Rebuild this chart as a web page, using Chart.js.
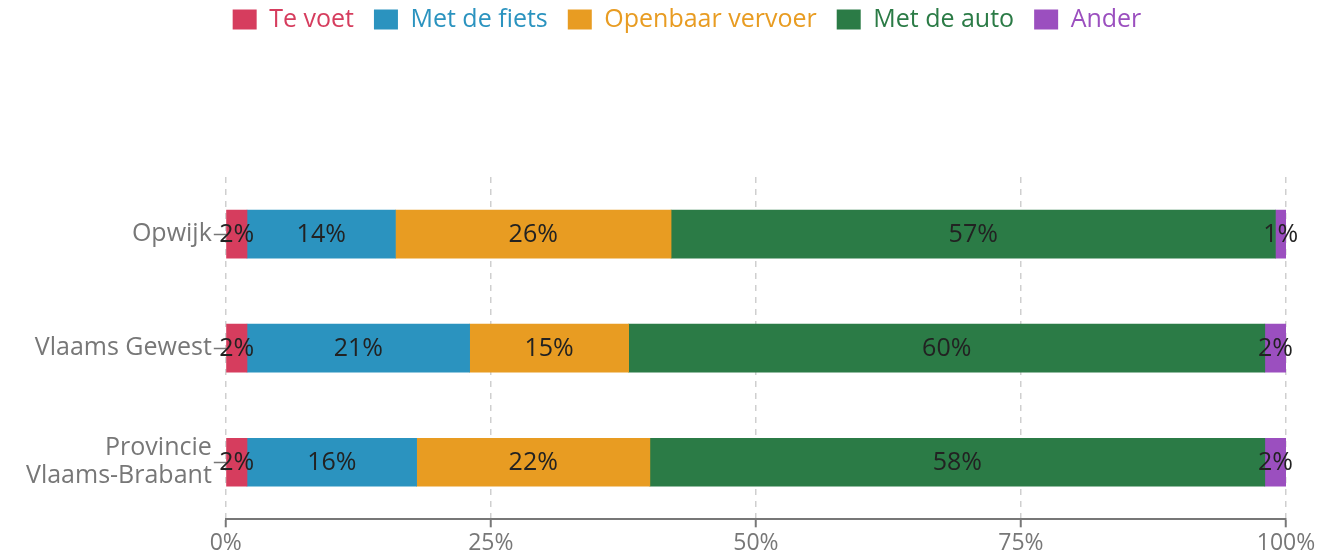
<!DOCTYPE html>
<html>
<head>
<meta charset="utf-8">
<script src="https://cdn.jsdelivr.net/npm/chart.js@4.4.1/dist/chart.umd.min.js"></script>
<style>
    html, body { margin: 0; padding: 0; background: #fff; }
    #wrap { width: 1332px; height: 560px; }
</style>
</head>
<body>
<div id="wrap"><canvas id="mode-chart"></canvas></div>
<script>
// Verplaatsingen naar werk/school per vervoerswijze
const regions = ['Opwijk', 'Vlaams Gewest', ['Provincie', 'Vlaams-Brabant']];
const teVoet = [2, 2, 2];
const metDeFiets = [14, 21, 16];
const openbaarVervoer = [26, 15, 22];
const metDeAuto = [57, 60, 58];
const ander = [1, 2, 2];
const xTicks = [0, 25, 50, 75, 100];

const FONT = '"Open Sans", "Noto Sans", sans-serif';

// Labels in the middle of each segment
const segmentLabels = {
    id: 'segmentLabels',
    afterDatasetsDraw(chart) {
        const ctx = chart.ctx;
        ctx.save();
        ctx.font = '25px ' + FONT;
        ctx.fillStyle = '#222';
        ctx.textAlign = 'center';
        ctx.textBaseline = 'middle';
        chart.data.datasets.forEach((ds, i) => {
            const meta = chart.getDatasetMeta(i);
            meta.data.forEach((bar, j) => {
                const mid = (bar.x + bar.base) / 2;
                ctx.fillText(ds.data[j] + '%', mid, bar.y + 1);
            });
        });
        ctx.restore();
    }
};

// Extra room below the legend, and pull the legend up a bit
const legendGap = {
    id: 'legendGap',
    beforeInit(chart) {
        const origFit = chart.legend.fit;
        chart.legend.fit = function() {
            origFit.bind(chart.legend)();
            this.height += 122;
        };
    },
    afterLayout(chart) {
        chart.legend.top -= 13;
        chart.legend.left += 32;
        chart.legend.right += 32;
    }
};

function makeSet(label, data, color) {
    return {
        label: label,
        data: data,
        backgroundColor: color,
        borderWidth: 0,
        barThickness: 48
    };
}

const modeChart = new Chart(document.getElementById('mode-chart').getContext('2d'), {
    type: 'bar',
    data: {
        labels: regions,
        datasets: [
            makeSet('Te voet', teVoet, '#d63d5e'),
            makeSet('Met de fiets', metDeFiets, '#2b93bf'),
            makeSet('Openbaar vervoer', openbaarVervoer, '#e89c22'),
            makeSet('Met de auto', metDeAuto, '#2b7b46'),
            makeSet('Ander', ander, '#9b4fbf')
        ]
    },
    options: {
        indexAxis: 'y',
        responsive: true,
        maintainAspectRatio: false,
        animation: false,
        layout: { padding: { left: 24, right: 46, top: 0, bottom: 0 } },
        plugins: {
            legend: {
                position: 'top',
                labels: {
                    boxWidth: 24,
                    boxHeight: 20,
                    padding: 20,
                    font: { family: FONT, size: 25 },
                    generateLabels(chart) {
                        const items = Chart.defaults.plugins.legend.labels.generateLabels(chart);
                        items.forEach(it => { it.fontColor = it.fillStyle; it.lineWidth = 0; });
                        return items;
                    }
                }
            },
            tooltip: { enabled: false }
        },
        scales: {
            x: {
                stacked: true,
                min: 0,
                max: 100,
                afterBuildTicks(axis) {
                    axis.ticks = xTicks.map(v => ({ value: v }));
                },
                ticks: {
                    callback: v => v + '%',
                    color: '#777',
                    padding: 6,
                    font: { family: FONT, size: 23, lineHeight: 0.9 }
                },
                grid: {
                    color: '#cfcfcf',
                    lineWidth: 1.5,
                    tickLength: 8,
                    tickColor: '#777',
                    tickWidth: 2
                },
                border: { display: true, color: '#777', width: 2, dash: [6, 6] }
            },
            y: {
                stacked: true,
                ticks: {
                    color: '#777',
                    padding: 2,
                    font: { family: FONT, size: 25, lineHeight: 1.12 }
                },
                grid: {
                    offset: false,
                    drawOnChartArea: false,
                    tickLength: 12,
                    tickColor: '#777',
                    tickWidth: 1.5
                },
                border: { display: false }
            }
        }
    },
    plugins: [segmentLabels, legendGap]
});
</script>
</body>
</html>
